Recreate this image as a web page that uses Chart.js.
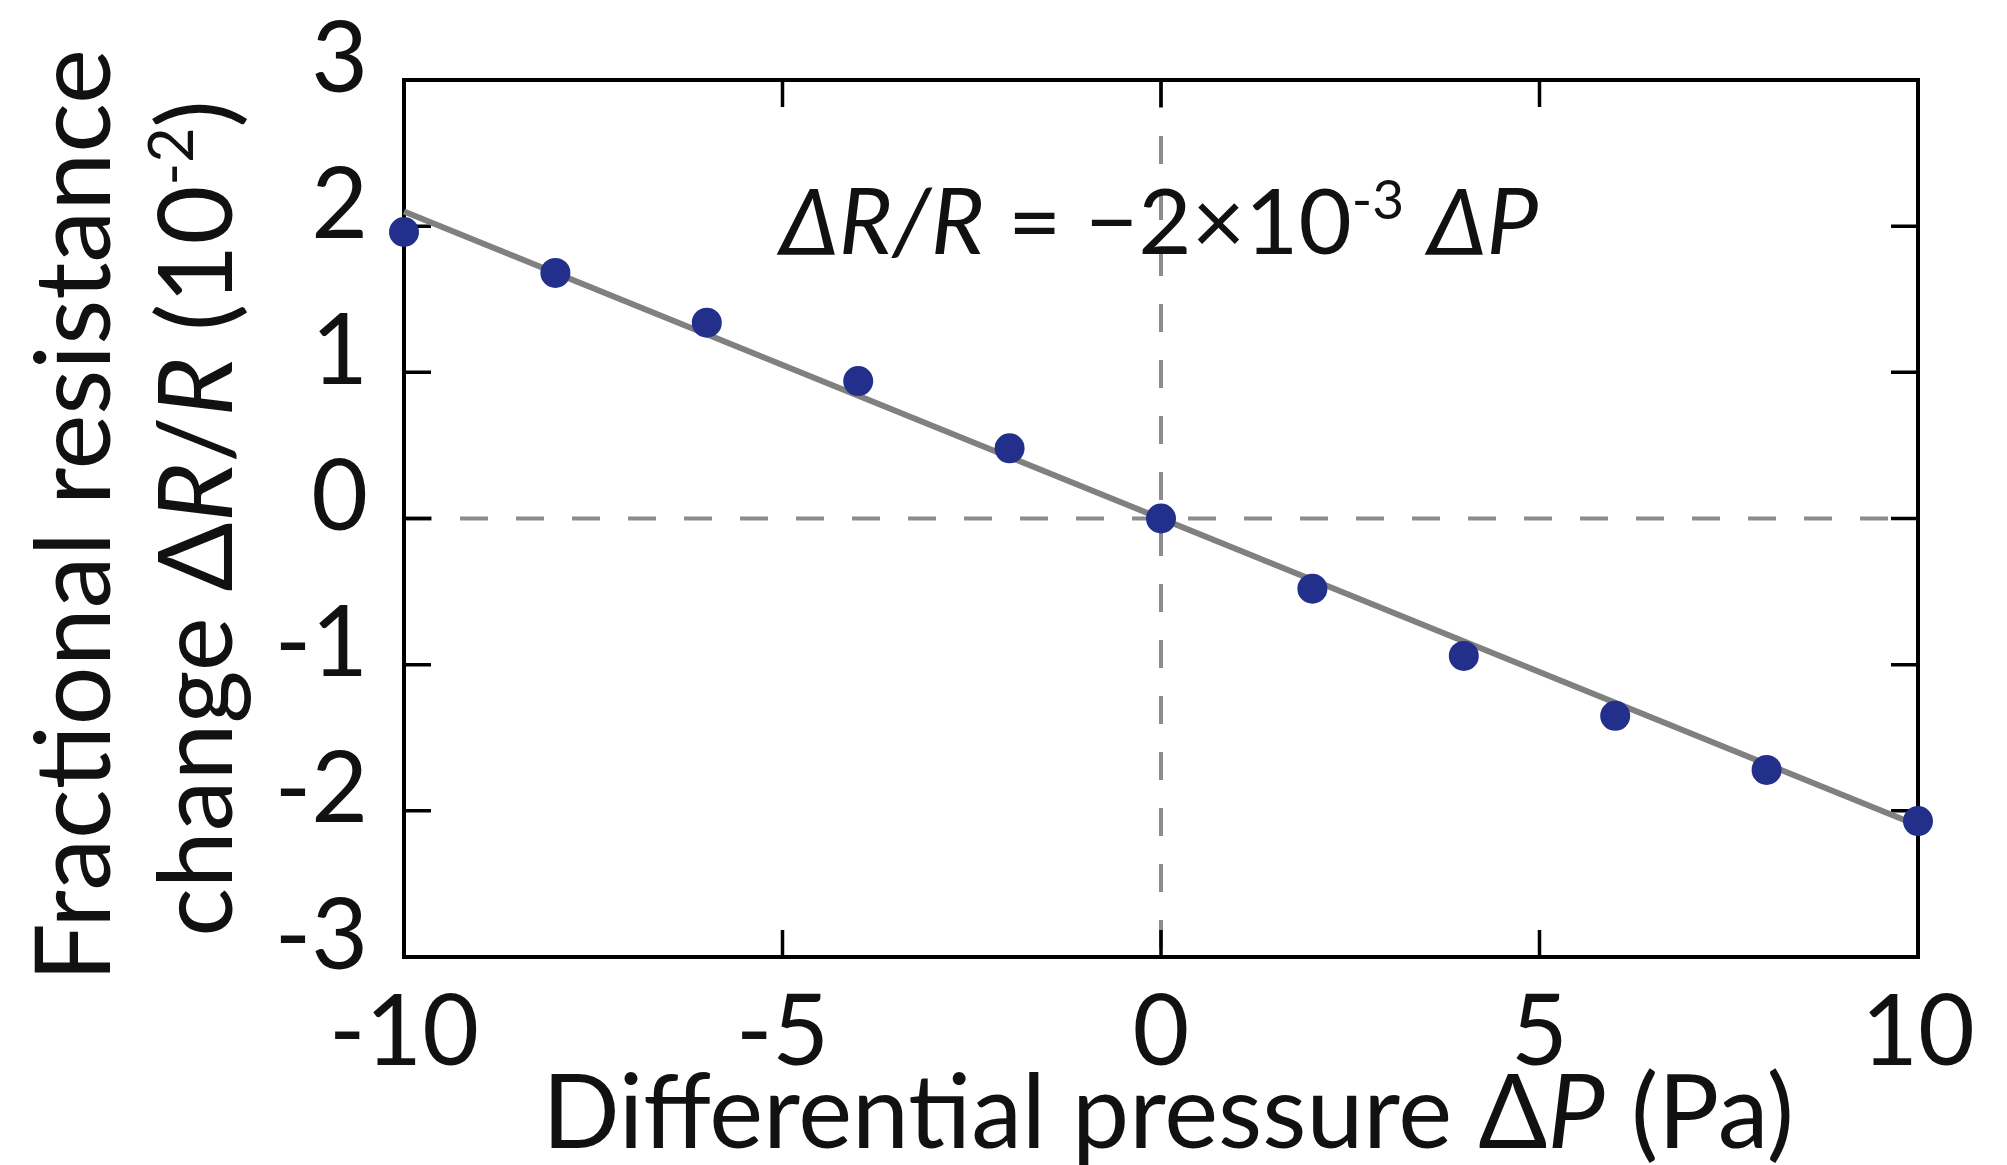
<!DOCTYPE html>
<html>
<head>
<meta charset="utf-8">
<script src="https://cdn.jsdelivr.net/npm/chart.js@4/dist/chart.umd.min.js"></script>
<style>
  html, body { margin: 0; padding: 0; background: #fff; }
  #wrap { width: 2007px; height: 1165px; }
</style>
</head>
<body>
<div id="wrap"><canvas id="pressureChart" width="2007" height="1165"></canvas></div>
<script>
// data
const pressure = [-10, -8, -6, -4, -2, 0, 2, 4, 6, 8, 10];
const resistance = [1.96, 1.68, 1.34, 0.94, 0.48, 0.0, -0.48, -0.94, -1.35, -1.72, -2.07];

// fitted line end points
const fitX = [-10, 10];
const fitY = [2.1, -2.1];

// tick values
const xTicks = [-10, -5, 0, 5, 10];
const yTicks = [-3, -2, -1, 0, 1, 2, 3];

// colours
const dotColor = '#22308c';
const fitColor = '#808080';
const dashColor = '#8c8c8c';
const axisColor = '#000000';
const fontFam = 'Lato, "Open Sans", sans-serif';

const chartEl = document.getElementById('pressureChart');

// draw a row of text pieces (italic / superscript) centred on 0,0
function drawRuns(ctx, runs, size) {
    let widths = runs.map((r) => {
        ctx.font = (r.italic ? 'italic ' : '') + Math.round(r.sup ? size * 0.6 : size) + 'px ' + fontFam;
        return ctx.measureText(r.text).width;
    });
    let total = widths.reduce((a, b) => a + b, 0);
    let x = -total / 2;
    runs.forEach((r, i) => {
        ctx.font = (r.italic ? 'italic ' : '') + Math.round(r.sup ? size * 0.6 : size) + 'px ' + fontFam;
        ctx.fillText(r.text, x, r.sup ? -size * 0.38 : 0);
        x += widths[i];
    });
}

// frame, inward ticks and dashed zero lines (under the data)
const framePlugin = {
    id: 'frame',
    beforeDatasetsDraw(chart) {
        const ctx = chart.ctx;
        const a = chart.chartArea;
        const xs = chart.scales.x;
        const ys = chart.scales.y;
        ctx.save();

        // dashed zero lines
        ctx.strokeStyle = dashColor;
        ctx.lineWidth = 4;
        ctx.setLineDash([28, 28]);
        let x0 = xs.getPixelForValue(0);
        let y0 = ys.getPixelForValue(0);
        ctx.beginPath();
        ctx.moveTo(x0, a.top);
        ctx.lineTo(x0, a.bottom);
        ctx.moveTo(a.left, y0);
        ctx.lineTo(a.right, y0);
        ctx.stroke();
        ctx.setLineDash([]);

        // ticks
        ctx.strokeStyle = axisColor;
        ctx.lineWidth = 3.5;
        const tl = 27;
        ctx.beginPath();
        xTicks.forEach((v) => {
            let px = xs.getPixelForValue(v);
            ctx.moveTo(px, a.bottom);
            ctx.lineTo(px, a.bottom - tl);
            ctx.moveTo(px, a.top);
            ctx.lineTo(px, a.top + tl);
        });
        yTicks.forEach((v) => {
            let py = ys.getPixelForValue(v);
            ctx.moveTo(a.left, py);
            ctx.lineTo(a.left + tl, py);
            ctx.moveTo(a.right, py);
            ctx.lineTo(a.right - tl, py);
        });
        ctx.stroke();

        // box
        ctx.lineWidth = 4;
        ctx.strokeRect(a.left, a.top, a.right - a.left, a.bottom - a.top);
        ctx.restore();
    },
    afterDraw(chart) {
        const ctx = chart.ctx;
        const a = chart.chartArea;
        const midX = (a.left + a.right) / 2;
        const midY = (a.top + a.bottom) / 2;
        ctx.save();
        ctx.fillStyle = '#111';
        ctx.textBaseline = 'alphabetic';
        ctx.textAlign = 'left';

        // equation
        ctx.save();
        ctx.translate(midX - 2, 254);
        drawRuns(ctx, [
            { text: 'ΔR/R', italic: true },
            { text: ' = \u22122\u00d710' },
            { text: '-3', sup: true },
            { text: ' ' },
            { text: 'ΔP', italic: true }
        ], 92);
        ctx.restore();

        // x title
        ctx.save();
        ctx.translate(midX + 7, 1148);
        drawRuns(ctx, [
            { text: 'Differential pressure Δ' },
            { text: 'P', italic: true },
            { text: ' (Pa)' }
        ], 102);
        ctx.restore();

        // y title, two lines
        ctx.save();
        ctx.translate(110, midY - 3);
        ctx.rotate(-Math.PI / 2);
        drawRuns(ctx, [{ text: 'Fractional resistance' }], 104);
        ctx.restore();

        ctx.save();
        ctx.translate(232, midY);
        ctx.rotate(-Math.PI / 2);
        drawRuns(ctx, [
            { text: 'change Δ' },
            { text: 'R', italic: true },
            { text: '/' },
            { text: 'R', italic: true },
            { text: ' (10' },
            { text: '-2', sup: true },
            { text: ')' }
        ], 102);
        ctx.restore();

        ctx.restore();
    }
};

let pressureChart = new Chart(chartEl, {
    type: 'scatter',
    data: {
        datasets: [
            {
                label: 'measured',
                data: pressure.map((p, i) => ({ x: p, y: resistance[i] })),
                backgroundColor: dotColor,
                borderColor: dotColor,
                pointRadius: 15,
                pointBorderWidth: 0,
                clip: false
            },
            {
                label: 'fit',
                type: 'line',
                data: fitX.map((p, i) => ({ x: p, y: fitY[i] })),
                borderColor: fitColor,
                borderWidth: 6,
                pointRadius: 0,
                fill: false,
                clip: false
            }
        ]
    },
    options: {
        responsive: false,
        animation: false,
        devicePixelRatio: 1,
        layout: {
            padding: { top: 80, right: 89, left: 0, bottom: 0 }
        },
        plugins: {
            legend: { display: false },
            tooltip: { enabled: false }
        },
        scales: {
            x: {
                type: 'linear',
                min: -10,
                max: 10,
                grid: { display: false },
                border: { display: false },
                afterBuildTicks: (scale) => { scale.ticks = xTicks.map((v) => ({ value: v })); },
                afterFit: (scale) => {
                    scale.height = 208;
                    scale.paddingLeft = 0;
                    scale.paddingRight = 0;
                },
                ticks: {
                    color: '#111',
                    padding: 10,
                    font: { family: fontFam, size: 98 }
                }
            },
            y: {
                type: 'linear',
                min: -3,
                max: 3,
                grid: { display: false },
                border: { display: false },
                afterBuildTicks: (scale) => { scale.ticks = yTicks.map((v) => ({ value: v })); },
                afterFit: (scale) => {
                    scale.width = 404;
                    scale.paddingTop = 0;
                    scale.paddingBottom = 0;
                },
                ticks: {
                    color: '#111',
                    padding: 28,
                    labelOffset: -20,
                    font: { family: fontFam, size: 98 }
                }
            }
        }
    },
    plugins: [framePlugin]
});
</script>
</body>
</html>
